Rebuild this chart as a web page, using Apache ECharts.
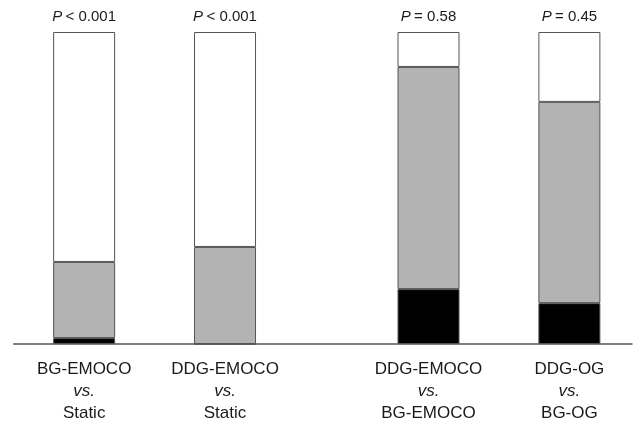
<!DOCTYPE html>
<html>
<head>
<meta charset="utf-8">
<script src="https://cdn.jsdelivr.net/npm/echarts@6/dist/echarts.min.js"></script>
<style>
  html, body { margin: 0; padding: 0; background: #fff; }
  #chart { width: 635px; height: 426px; }
</style>
</head>
<body>
<div id="chart"></div>
<script>
// Comparison labels (three lines each)
var compTop = ['BG-EMOCO', 'DDG-EMOCO', 'DDG-EMOCO', 'DDG-OG'];
var compBottom = ['Static', 'Static', 'BG-EMOCO', 'BG-OG'];
// P values above bars
var pLabels = ['< 0.001', '< 0.001', '= 0.58', '= 0.45'];
// Slot of each bar on a fine category axis (two pairs with a wider gap)
var slotIndex = [9, 27, 53, 71];
var slotCount = 80;
// Stacked shares (%)
var blackVals = [1.9, 0, 17.6, 13.1];
var grayVals = [24.4, 31.1, 71.2, 64.5];
var whiteVals = [73.7, 68.9, 11.2, 22.4];

var slots = [];
for (var s = 0; s < slotCount; s++) slots.push('s' + s);

function fill(vals) {
  var out = [];
  for (var s = 0; s < slotCount; s++) out.push('-');
  vals.forEach(function (v, i) { out[slotIndex[i]] = v; });
  return out;
}
function barOf(dataIndex) { return slotIndex.indexOf(dataIndex); }

var font = 'Liberation Sans, Arial, Helvetica, sans-serif';
var border = { borderColor: '#555', borderWidth: 1 };

var chart = echarts.init(document.getElementById('chart'), null, { renderer: 'canvas' });
chart.setOption({
  animation: false,
  backgroundColor: '#fff',
  grid: { left: 13.7, right: 1.4, top: 32, bottom: 82, containLabel: false },
  xAxis: {
    type: 'category',
    data: slots,
    boundaryGap: false,
    axisTick: { show: false },
    axisLine: { show: true, lineStyle: { color: '#555', width: 1.5 } },
    axisLabel: {
      interval: 0,
      margin: 14,
      fontFamily: font,
      fontSize: 17,
      color: '#1a1a1a',
      lineHeight: 22,
      formatter: function (val, idx) {
        var b = slotIndex.indexOf(idx);
        if (b < 0) return '';
        return '{a|' + compTop[b] + '}\n{i|vs.}\n{a|' + compBottom[b] + '}';
      },
      rich: {
        a: { fontFamily: font, fontSize: 17, lineHeight: 22, color: '#1a1a1a' },
        i: { fontFamily: font, fontSize: 17, lineHeight: 22, fontStyle: 'italic', color: '#1a1a1a' }
      }
    }
  },
  yAxis: {
    type: 'value',
    min: 0,
    max: 100,
    show: false
  },
  series: [
    {
      name: 'black', type: 'bar', stack: 's', barWidth: 62,
      itemStyle: Object.assign({ color: '#000' }, border),
      data: fill(blackVals)
    },
    {
      name: 'gray', type: 'bar', stack: 's', barWidth: 62,
      itemStyle: Object.assign({ color: '#b3b3b3' }, border),
      data: fill(grayVals)
    },
    {
      name: 'white', type: 'bar', stack: 's', barWidth: 62,
      itemStyle: Object.assign({ color: '#fff' }, border),
      label: {
        show: true,
        position: 'top',
        distance: 8,
        formatter: function (p) {
          return '{p|P} {t|' + pLabels[barOf(p.dataIndex)] + '}';
        },
        rich: {
          p: { fontFamily: font, fontSize: 15, fontStyle: 'italic', color: '#1a1a1a' },
          t: { fontFamily: font, fontSize: 15, color: '#1a1a1a' }
        }
      },
      data: fill(whiteVals)
    }
  ]
});
</script>
</body>
</html>
